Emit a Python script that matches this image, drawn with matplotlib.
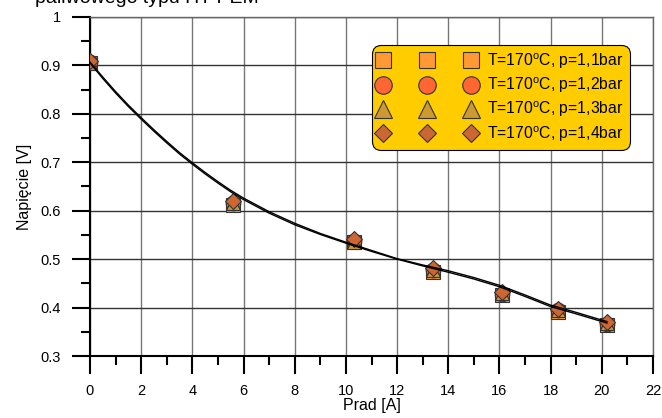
import matplotlib
matplotlib.use("Agg")
import matplotlib.pyplot as plt
from matplotlib.ticker import MultipleLocator

plt.rcParams['font.family'] = ['Liberation Sans', 'DejaVu Sans']
plt.rcParams['mathtext.fontset'] = 'custom'
plt.rcParams['mathtext.rm'] = 'Liberation Sans'

# punkty pomiarowe
prad = [0, 5.6, 10.3, 13.4, 16.1, 18.3, 20.2]
nap_11 = [0.905, 0.612, 0.535, 0.473, 0.425, 0.391, 0.364]
nap_12 = [0.907, 0.616, 0.538, 0.477, 0.429, 0.395, 0.367]
nap_13 = [0.904, 0.615, 0.536, 0.478, 0.430, 0.396, 0.368]
nap_14 = [0.909, 0.620, 0.541, 0.482, 0.433, 0.398, 0.370]

# krzywe dopasowania
prad_fit = [0, 0.5, 1, 1.5, 2, 2.5, 3, 3.5, 4, 4.5, 5, 5.5, 6, 7, 8, 9, 10,
            11, 12, 13, 14, 15, 16, 17, 18, 19, 20.2]
fit_a = [0.905, 0.873, 0.843, 0.815, 0.789, 0.764, 0.740, 0.717, 0.696, 0.676, 0.657,
         0.639, 0.623, 0.595, 0.571, 0.551, 0.533,
         0.516, 0.500, 0.486, 0.473, 0.459, 0.443, 0.423, 0.402, 0.387, 0.368]
fit_b = [0.907, 0.876, 0.846, 0.818, 0.792, 0.767, 0.743, 0.720, 0.699, 0.679, 0.660,
         0.642, 0.626, 0.598, 0.574, 0.553, 0.535,
         0.518, 0.501, 0.488, 0.476, 0.462, 0.446, 0.426, 0.405, 0.390, 0.371]

labels = [r'T=170$^{\mathrm{o}}$C, p=1,1bar', r'T=170$^{\mathrm{o}}$C, p=1,2bar',
          r'T=170$^{\mathrm{o}}$C, p=1,3bar', r'T=170$^{\mathrm{o}}$C, p=1,4bar']

fig = plt.figure(figsize=(6.62, 4.18), dpi=100)
ax = fig.add_axes([90/662, 1-356/418, 563/662, 339/418])

serie = [
    (nap_11, 's', '#FF9933', 10),
    (nap_12, 'o', '#FF6633', 10.5),
    (nap_13, '^', '#CC9933', 10.5),
    (nap_14, 'D', '#CC6633', 8),
]
for (y, m, c, ms), lab in zip(serie, labels):
    ax.plot(prad, y, linestyle='none', marker=m, markersize=ms, markerfacecolor=c,
            markeredgecolor='#333333', markeredgewidth=0.8, label=lab, zorder=3)

ax.plot(prad_fit, fit_a, color='black', lw=1.0, zorder=4)
ax.plot(prad_fit, fit_b, color='black', lw=1.0, zorder=4)

ax.set_xlim(0, 22)
ax.set_ylim(0.3, 1.0)
ax.xaxis.set_major_locator(MultipleLocator(2))
ax.xaxis.set_minor_locator(MultipleLocator(1))
ax.yaxis.set_minor_locator(MultipleLocator(0.05))
ax.set_yticks([0.3, 0.4, 0.5, 0.6, 0.7, 0.8, 0.9, 1.0])
ax.set_yticklabels(['0.3', '0.4', '0.5', '0.6', '0.7', '0.8', '0.9', '1'])

ax.grid(True, which='major', axis='x', color='#777777', lw=1.0)
ax.grid(True, which='major', axis='y', color='#333333', lw=1.0)
ax.set_axisbelow(True)

ax.tick_params(which='major', direction='out', length=13, width=1.5, labelsize=10.5, pad=7)
ax.tick_params(which='minor', direction='out', length=6.5, width=1.5)
ax.tick_params(axis='y', which='major', pad=8)
for s in ['left', 'bottom']:
    ax.spines[s].set_linewidth(1.5)
for s in ['top', 'right']:
    ax.spines[s].set_linewidth(1.0)
    ax.spines[s].set_color('#666666')

ax.set_xlabel('Prad [A]', fontsize=11.5, labelpad=0)
ax.set_ylabel('Napięcie [V]', fontsize=11.5, labelpad=6)

fig.text(35/662, 1-3/418, 'paliwowego typu HT-PEM', fontsize=14, va='baseline', ha='left')

leg = ax.legend(loc='upper right', bbox_to_anchor=(630/662, 1-45/418),
                bbox_transform=fig.transFigure, numpoints=3, handlelength=6.2,
                handletextpad=0.75, labelspacing=0.3, fontsize=11.3, markerscale=1.2,
                borderpad=0.4, borderaxespad=0, fancybox=True, framealpha=1)
fr = leg.get_frame()
fr.set_facecolor('#FFCC00')
fr.set_edgecolor('black')
fr.set_linewidth(0.8)
fr.set_boxstyle('round', pad=0, rounding_size=0.6)

fig.savefig('out.png', dpi=100)
